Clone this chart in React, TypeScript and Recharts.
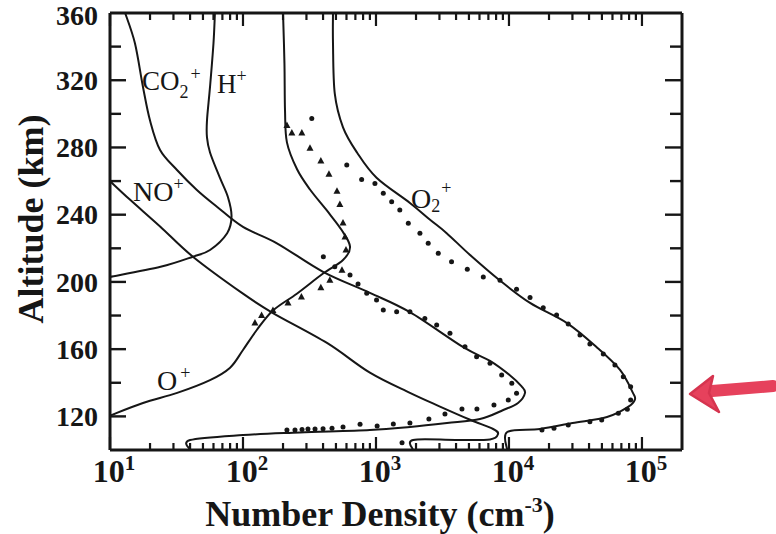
import React from "react";
import { ComposedChart, Line, Scatter, XAxis, YAxis } from "recharts";

const INK = "#161616";
const RED = "#e6415c";
const FONT = '"Liberation Serif", "Times New Roman", serif';

// ion density profiles, n in cm^-3 vs altitude in km
const co2Model = [
  { n: 13, alt: 360 }, { n: 15.4, alt: 342 }, { n: 17.7, alt: 316 }, { n: 20, alt: 296 },
  { n: 23.8, alt: 278.5 }, { n: 31.9, alt: 266.6 }, { n: 45, alt: 254.7 }, { n: 64, alt: 244.6 },
  { n: 100, alt: 232.7 }, { n: 180, alt: 223 }, { n: 400, alt: 206 }, { n: 900, alt: 193.5 },
  { n: 1800, alt: 182 }, { n: 4500, alt: 161.3 }, { n: 7200, alt: 153 }, { n: 10100, alt: 144.6 },
  { n: 12400, alt: 138 }, { n: 13200, alt: 134 }, { n: 11700, alt: 128 }, { n: 9060, alt: 123.8 },
  { n: 6050, alt: 118.4 }, { n: 3420, alt: 116 }, { n: 1800, alt: 113.7 }, { n: 900, alt: 111.9 },
  { n: 268, alt: 110.4 }, { n: 100, alt: 108.9 }, { n: 40, alt: 105.9 }, { n: 40, alt: 100 },
];

const hModel = [
  { n: 61.5, alt: 360 }, { n: 60, alt: 342 }, { n: 56.5, alt: 316 }, { n: 53.6, alt: 296 },
  { n: 53.6, alt: 286 }, { n: 56.5, alt: 277 }, { n: 67, alt: 262 }, { n: 77, alt: 250.5 },
  { n: 82, alt: 239 }, { n: 76, alt: 229 }, { n: 56.5, alt: 219 }, { n: 42, alt: 215 },
  { n: 24, alt: 209 }, { n: 10, alt: 203 },
];

const noModel = [
  { n: 10, alt: 260 }, { n: 14.1, alt: 249 }, { n: 23.8, alt: 233 }, { n: 42, alt: 215 },
  { n: 100, alt: 193 }, { n: 168, alt: 181.5 }, { n: 428, alt: 163.7 }, { n: 900, alt: 146 },
  { n: 1800, alt: 134 }, { n: 3000, alt: 126 }, { n: 5100, alt: 118 }, { n: 7600, alt: 112.5 },
  { n: 8270, alt: 109.5 }, { n: 7200, alt: 106.3 }, { n: 4000, alt: 106 }, { n: 1900, alt: 106 },
  { n: 1900, alt: 100 },
];

const oModel = [
  { n: 200, alt: 360 }, { n: 205, alt: 330 }, { n: 207, alt: 302 }, { n: 214, alt: 283 },
  { n: 255, alt: 267 }, { n: 319, alt: 255 }, { n: 427, alt: 242.5 }, { n: 550, alt: 231 },
  { n: 638, alt: 221 }, { n: 565, alt: 213 }, { n: 400, alt: 205 }, { n: 254, alt: 193 },
  { n: 168, alt: 183 }, { n: 127, alt: 171.4 }, { n: 100, alt: 159.5 }, { n: 80, alt: 149 },
  { n: 56.5, alt: 141.6 }, { n: 32, alt: 134 }, { n: 17.7, alt: 128 }, { n: 10, alt: 120.5 },
];

const o2Model = [
  { n: 475, alt: 360 }, { n: 475, alt: 342 }, { n: 490, alt: 312 }, { n: 565, alt: 292 },
  { n: 720, alt: 277 }, { n: 1010, alt: 262 }, { n: 1800, alt: 247 }, { n: 2550, alt: 237 },
  { n: 3400, alt: 229 }, { n: 5100, alt: 216 }, { n: 8500, alt: 201 }, { n: 14400, alt: 187.5 },
  { n: 27300, alt: 175.5 }, { n: 45900, alt: 161 }, { n: 68400, alt: 147.6 }, { n: 85500, alt: 134 },
  { n: 88500, alt: 130 }, { n: 78500, alt: 125.6 }, { n: 54600, alt: 119.6 }, { n: 30000, alt: 116 },
  { n: 17100, alt: 112.5 }, { n: 9700, alt: 110.7 }, { n: 9700, alt: 100 },
];

// measured O+ (triangles)
const oMeasured = [
  { n: 214, alt: 293 }, { n: 233, alt: 288.6 }, { n: 277, alt: 288.6 }, { n: 319, alt: 279.6 },
  { n: 385, alt: 272 }, { n: 443, alt: 264 }, { n: 509, alt: 254 }, { n: 535, alt: 246 },
  { n: 565, alt: 235 }, { n: 585, alt: 226.7 }, { n: 595, alt: 219 }, { n: 555, alt: 207 },
  { n: 450, alt: 201 }, { n: 385, alt: 196.6 }, { n: 275, alt: 191 }, { n: 218, alt: 187.5 },
  { n: 168, alt: 183 }, { n: 138, alt: 180 }, { n: 123, alt: 175.5 },
];

// measured O2+ (dots)
const o2Measured = [
  { n: 329, alt: 297.3 }, { n: 603, alt: 269.5 }, { n: 780, alt: 261 }, { n: 982, alt: 258.6 },
  { n: 1135, alt: 252.7 }, { n: 1312, alt: 247.7 }, { n: 1510, alt: 242.8 }, { n: 1750, alt: 234.9 },
  { n: 2140, alt: 228.9 }, { n: 2470, alt: 223 }, { n: 2940, alt: 217 }, { n: 3700, alt: 212 },
  { n: 4860, alt: 207.5 }, { n: 6410, alt: 203 }, { n: 8560, alt: 201 }, { n: 11400, alt: 195.6 },
  { n: 14400, alt: 190.8 }, { n: 18100, alt: 184.7 }, { n: 22800, alt: 180.3 }, { n: 27900, alt: 175 },
  { n: 34200, alt: 168.4 }, { n: 40600, alt: 163 }, { n: 51200, alt: 157.1 }, { n: 62600, alt: 150.6 },
  { n: 72400, alt: 143.6 }, { n: 82200, alt: 137.7 }, { n: 82200, alt: 129.7 }, { n: 77600, alt: 124.2 },
  { n: 66400, alt: 121.8 }, { n: 49800, alt: 117.8 }, { n: 40600, alt: 116.8 }, { n: 27900, alt: 114.9 },
  { n: 21800, alt: 112.9 }, { n: 17700, alt: 111.9 }, { n: 1570, alt: 104.3 },
];

// measured CO2+ (dots)
const co2Measured = [
  { n: 402, alt: 215 }, { n: 490, alt: 209 }, { n: 638, alt: 204.1 }, { n: 733, alt: 198.8 },
  { n: 852, alt: 193.3 }, { n: 1010, alt: 189.2 }, { n: 1135, alt: 183.3 }, { n: 1430, alt: 182.3 },
  { n: 1800, alt: 182.3 }, { n: 2330, alt: 178.3 }, { n: 2860, alt: 174.4 }, { n: 3600, alt: 169.4 },
  { n: 4670, alt: 161.5 }, { n: 5710, alt: 155.5 }, { n: 7200, alt: 151.6 }, { n: 8810, alt: 144.6 },
  { n: 10500, alt: 139.7 }, { n: 11400, alt: 133.7 }, { n: 9880, alt: 129.7 }, { n: 7710, alt: 126.8 },
  { n: 5740, alt: 124.4 }, { n: 4430, alt: 124.4 }, { n: 3300, alt: 121.4 }, { n: 2500, alt: 118.4 },
  { n: 1800, alt: 116 }, { n: 1350, alt: 115.5 }, { n: 1020, alt: 114.3 }, { n: 759, alt: 115.3 },
  { n: 565, alt: 113.7 }, { n: 467, alt: 113 }, { n: 400, alt: 112.7 }, { n: 348, alt: 112.5 },
  { n: 308, alt: 112.5 }, { n: 278, alt: 112.2 }, { n: 246, alt: 111.9 }, { n: 214, alt: 111.9 },
];

const xMajor = [10, 100, 1000, 10000, 100000];
const xTicks = [
  ...[10, 100, 1000, 10000].flatMap((d) => [1, 2, 3, 4, 5, 6, 7, 8, 9].map((m) => m * d)),
  100000,
];
const yTicks = [120, 140, 160, 180, 200, 220, 240, 260, 280, 300, 320, 340, 360];
const yLabels = [120, 160, 200, 240, 280, 320, 360];

// simple catmull-rom curve so the profiles can bend back on themselves
function catmullRom(context: any) {
  let pts: number[][] = [];
  return {
    areaStart() {},
    areaEnd() {},
    lineStart() {
      pts = [];
    },
    point(x: number, y: number) {
      pts.push([+x, +y]);
    },
    lineEnd() {
      if (!pts.length) return;
      context.moveTo(pts[0][0], pts[0][1]);
      for (let i = 0; i < pts.length - 1; i++) {
        const p0 = pts[Math.max(i - 1, 0)];
        const p1 = pts[i];
        const p2 = pts[i + 1];
        const p3 = pts[Math.min(i + 2, pts.length - 1)];
        context.bezierCurveTo(
          p1[0] + (p2[0] - p0[0]) / 6,
          p1[1] + (p2[1] - p0[1]) / 6,
          p2[0] - (p3[0] - p1[0]) / 6,
          p2[1] - (p3[1] - p1[1]) / 6,
          p2[0],
          p2[1]
        );
      }
    },
  };
}

const BottomTick = ({ x, y, payload }: any) => {
  const v = payload.value;
  const major = xMajor.includes(v);
  return (
    <g>
      <line x1={x} y1={y} x2={x} y2={y - (major ? 13 : 7)} stroke={INK} strokeWidth={2.2} />
      {major && (
        <text x={x + 4} y={y + 32} textAnchor="middle" fontFamily={FONT} fontWeight="bold" fontSize={32} fill={INK}>
          10
          <tspan dy={-12} fontSize={21}>
            {Math.round(Math.log10(v))}
          </tspan>
        </text>
      )}
    </g>
  );
};

const TopTick = ({ x, y, payload }: any) => {
  const major = xMajor.includes(payload.value);
  return <line x1={x} y1={y} x2={x} y2={y + (major ? 13 : 7)} stroke={INK} strokeWidth={2.2} />;
};

const LeftTick = ({ x, y, payload }: any) => {
  const v = payload.value;
  const major = yLabels.includes(v);
  return (
    <g>
      {v < 360 && <line x1={x} y1={y} x2={x + (major ? 16 : 11)} y2={y} stroke={INK} strokeWidth={2.4} />}
      {major && (
        <text x={x - 12} y={v === 360 ? y + 2 : y} dy="0.35em" textAnchor="end" fontFamily={FONT} fontWeight="bold" fontSize={28} fill={INK}>
          {v}
        </text>
      )}
    </g>
  );
};

const RightTick = ({ x, y, payload }: any) => {
  const v = payload.value;
  if (v >= 360) return <g />;
  const major = yLabels.includes(v);
  return <line x1={x} y1={y} x2={x - (major ? 17 : 12)} y2={y} stroke={INK} strokeWidth={2.4} />;
};

const Dot = ({ cx, cy }: any) => <circle cx={cx} cy={cy} r={2.5} fill={INK} />;
const Tri = ({ cx, cy }: any) => (
  <polygon points={`${cx},${cy - 4} ${cx - 3.5},${cy + 2.5} ${cx + 3.5},${cy + 2.5}`} fill={INK} />
);

const axisLine = { stroke: INK, strokeWidth: 3 };

export default function App() {
  const models = [co2Model, hModel, noModel, oModel, o2Model];
  return (
    <div style={{ position: "absolute", left: 0, top: 0, width: 776, height: 534, background: "#fff" }}>
      <ComposedChart
        width={776}
        height={534}
        layout="vertical"
        margin={{ top: 12, right: 93, bottom: 0, left: 0 }}
      >
        <XAxis
          xAxisId={0}
          dataKey="n"
          type="number"
          scale="log"
          domain={[10, 200000]}
          allowDataOverflow
          ticks={xTicks}
          interval={0}
          height={84}
          tickSize={0}
          tickMargin={0}
          tickLine={false}
          axisLine={axisLine}
          tick={BottomTick}
        />
        <XAxis
          xAxisId="top"
          orientation="top"
          dataKey="n"
          type="number"
          scale="log"
          domain={[10, 200000]}
          allowDataOverflow
          ticks={xTicks}
          interval={0}
          height={1}
          tickSize={0}
          tickMargin={0}
          tickLine={false}
          axisLine={axisLine}
          tick={TopTick}
        />
        <YAxis
          yAxisId={0}
          dataKey="alt"
          type="number"
          domain={[100, 360]}
          allowDataOverflow
          reversed
          ticks={yTicks}
          interval={0}
          width={110}
          tickSize={0}
          tickMargin={0}
          tickLine={false}
          axisLine={axisLine}
          tick={LeftTick}
        />
        <YAxis
          yAxisId="right"
          orientation="right"
          dataKey="alt"
          type="number"
          domain={[100, 360]}
          allowDataOverflow
          reversed
          ticks={yTicks}
          interval={0}
          width={1}
          tickSize={0}
          tickMargin={0}
          tickLine={false}
          axisLine={axisLine}
          tick={RightTick}
        />
        {models.map((d, i) => (
          <Line
            key={i}
            data={d}
            dataKey="n"
            type={catmullRom as any}
            stroke={INK}
            strokeWidth={2}
            dot={false}
            activeDot={false}
            isAnimationActive={false}
          />
        ))}
        <Scatter data={oMeasured} shape={Tri} isAnimationActive={false} />
        <Scatter data={o2Measured} shape={Dot} isAnimationActive={false} />
        <Scatter data={co2Measured} shape={Dot} isAnimationActive={false} />
      </ComposedChart>

      <svg
        width={776}
        height={534}
        style={{ position: "absolute", left: 0, top: 0, pointerEvents: "none" }}
        fontFamily={FONT}
        fill={INK}
      >
        <text x={142} y={90} fontSize={27}>
          CO
          <tspan dy={8} fontSize={18}>2</tspan>
          <tspan dy={-18} dx={2} fontSize={18}>+</tspan>
        </text>
        <text x={217} y={93} fontSize={27}>
          H<tspan dy={-11} fontSize={18}>+</tspan>
        </text>
        <text x={133} y={201} fontSize={28}>
          NO<tspan dy={-11} fontSize={18}>+</tspan>
        </text>
        <text x={157} y={390} fontSize={28}>
          O<tspan dy={-11} dx={3} fontSize={18}>+</tspan>
        </text>
        <text x={411} y={208} fontSize={28}>
          O<tspan dy={4} fontSize={18}>2</tspan>
          <tspan dy={-18} dx={1} fontSize={18}>+</tspan>
        </text>

        <text x={380} y={526} textAnchor="middle" fontSize={36} fontWeight="bold">
          Number Density (cm<tspan dy={-14} fontSize={22}>-3</tspan>
          <tspan dy={14}>)</tspan>
        </text>
        <text transform="translate(43,219) rotate(-90)" textAnchor="middle" fontSize={36} fontWeight="bold">
          Altitude (km)
        </text>

        <path d="M773,386 L712,391" stroke={RED} strokeWidth={12} strokeLinecap="round" fill="none" />
        <polygon points="690,394 713,376 709,393 719,412" fill={RED} stroke="#d6344f" strokeWidth={2.5} strokeLinejoin="round" />
      </svg>
    </div>
  );
}
